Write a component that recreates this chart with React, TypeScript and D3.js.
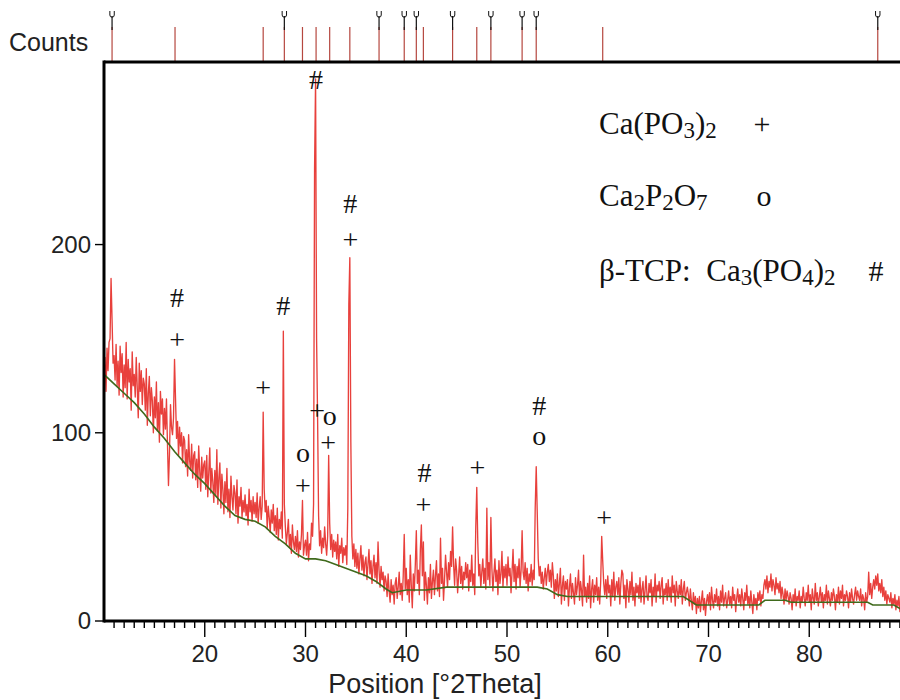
import React, { useRef, useEffect } from "react";
import * as d3 from "d3";

// observed pattern, one row per degree, sampled every 0.1 °2Theta from 10.0
const obsStart = 10;
const obsStep = 0.1;
const obsRows = [
  [128, 140, 122, 145, 133, 148, 150, 182, 160, 137],
  [141, 128, 147, 125, 138, 120, 146, 132, 142, 119],
  [136, 124, 148, 118, 139, 127, 134, 112, 143, 125],
  [131, 119, 140, 124, 108, 137, 122, 133, 115, 129],
  [126, 112, 134, 104, 121, 130, 109, 124, 117, 100],
  [119, 108, 127, 101, 116, 95, 122, 110, 118, 99],
  [113, 102, 118, 94, 72, 89, 115, 103, 99, 108],
  [139, 118, 97, 106, 88, 103, 93, 100, 84, 98],
  [96, 82, 91, 77, 99, 85, 80, 94, 76, 88],
  [90, 75, 86, 71, 93, 80, 69, 87, 76, 83],
  [85, 70, 88, 66, 79, 92, 68, 81, 74, 63],
  [80, 67, 91, 62, 76, 84, 60, 78, 70, 57],
  [74, 63, 81, 58, 70, 55, 77, 66, 59, 72],
  [68, 57, 75, 52, 66, 61, 71, 55, 64, 58],
  [67, 56, 62, 51, 70, 58, 64, 53, 66, 57],
  [63, 55, 68, 52, 60, 66, 54, 61, 111, 70],
  [58, 64, 49, 61, 55, 47, 59, 52, 62, 48],
  [56, 46, 60, 43, 54, 49, 58, 44, 154, 62],
  [50, 41, 47, 54, 39, 46, 36, 51, 42, 38],
  [45, 37, 48, 34, 42, 38, 46, 64, 35, 40],
  [43, 35, 47, 32, 41, 38, 52, 45, 62, 240],
  [288, 150, 108, 56, 40, 48, 36, 44, 39, 50],
  [41, 35, 45, 88, 52, 38, 46, 34, 43, 37],
  [42, 33, 46, 29, 40, 36, 44, 31, 39, 35],
  [40, 30, 60, 168, 193, 95, 45, 33, 41, 29],
  [38, 28, 36, 25, 33, 40, 27, 35, 24, 31],
  [34, 22, 30, 38, 25, 32, 20, 29, 35, 23],
  [31, 20, 42, 27, 18, 29, 22, 26, 16, 24],
  [21, 13, 25, 16, 10, 22, 14, 19, 9, 20],
  [23, 12, 18, 26, 14, 20, 11, 24, 46, 17],
  [28, 14, 22, 10, 35, 19, 7, 25, 16, 30],
  [48, 20, 27, 14, 38, 51, 24, 42, 11, 26],
  [19, 9, 23, 15, 30, 12, 21, 27, 14, 24],
  [32, 16, 25, 13, 44, 20, 28, 11, 22, 35],
  [26, 18, 31, 22, 37, 29, 50, 30, 19, 33],
  [27, 15, 24, 34, 20, 29, 17, 26, 22, 31],
  [23, 30, 16, 27, 21, 35, 19, 25, 14, 50],
  [71, 42, 24, 30, 18, 26, 33, 20, 28, 17],
  [60, 22, 31, 19, 55, 28, 16, 25, 33, 21],
  [27, 14, 32, 20, 25, 37, 18, 29, 23, 30],
  [19, 34, 24, 28, 15, 26, 38, 21, 30, 17],
  [29, 23, 33, 18, 27, 48, 26, 22, 31, 20],
  [28, 16, 25, 21, 30, 19, 27, 22, 60, 82],
  [58, 33, 24, 29, 20, 26, 17, 23, 28, 19],
  [26, 30, 21, 27, 18, 31, 24, 12, 22, 16],
  [25, 13, 20, 28, 9, 19, 24, 11, 21, 17],
  [22, 8, 18, 25, 12, 20, 15, 9, 23, 14],
  [19, 27, 11, 21, 16, 8, 35, 13, 18, 10],
  [20, 12, 24, 7, 17, 22, 10, 19, 14, 23],
  [11, 18, 9, 21, 45, 32, 20, 14, 22, 12],
  [24, 15, 19, 8, 22, 13, 26, 11, 18, 21],
  [14, 23, 9, 20, 27, 25, 12, 19, 7, 22],
  [17, 10, 21, 14, 26, 11, 18, 8, 20, 15],
  [19, 12, 23, 10, 17, 21, 9, 16, 24, 13],
  [11, 20, 15, 22, 8, 18, 13, 25, 10, 19],
  [16, 21, 12, 19, 23, 9, 17, 14, 20, 11],
  [22, 13, 18, 10, 24, 15, 19, 8, 21, 16],
  [12, 19, 14, 22, 9, 17, 21, 11, 15, 18],
  [14, 8, 17, 11, 6, 15, 9, 13, 4, 12],
  [7, 13, 5, 11, 16, 6, 12, 3, 10, 14],
  [9, 15, 6, 18, 11, 7, 14, 10, 17, 8],
  [13, 6, 16, 10, 19, 8, 12, 15, 7, 11],
  [16, 9, 13, 7, 18, 11, 14, 5, 12, 17],
  [10, 14, 8, 17, 12, 6, 15, 11, 19, 9],
  [13, 7, 16, 10, 4, 14, 9, 12, 6, 15],
  [11, 16, 8, 14, 12, 19, 22, 17, 24, 15],
  [21, 18, 25, 16, 22, 19, 14, 23, 17, 20],
  [15, 21, 12, 18, 14, 9, 17, 11, 16, 13],
  [9, 15, 12, 6, 14, 10, 17, 8, 13, 11],
  [16, 7, 13, 10, 18, 12, 8, 15, 11, 19],
  [10, 14, 6, 17, 12, 9, 20, 11, 15, 8],
  [13, 18, 10, 15, 7, 14, 11, 19, 9, 16],
  [12, 8, 15, 11, 17, 13, 6, 14, 10, 18],
  [9, 16, 12, 19, 8, 14, 11, 16, 13, 7],
  [15, 10, 17, 12, 9, 14, 18, 11, 16, 13],
  [11, 17, 8, 14, 12, 6, 15, 10, 13, 26],
  [14, 20, 12, 18, 22, 17, 24, 19, 25, 16],
  [20, 15, 22, 13, 18, 11, 16, 9, 14, 12],
  [10, 15, 7, 12, 9, 14, 6, 11, 8, 13],
  [5, 10, 3, 8, 4, 9, 2, 7, 5, 6],
];

// fitted background
const bgX = [10, 11, 12, 13, 14, 15, 16, 17, 18, 19, 20, 21, 22, 23, 24, 25, 26, 27, 28, 29, 30, 31, 32, 33, 34, 35, 36, 37, 38, 38.6, 40, 42, 44, 53, 54, 55, 56, 67.5, 68.8, 75, 75.6, 77.6, 78.2, 85.8, 86.3, 88.4, 89.2, 90];
const bgY = [131, 126, 121, 116, 110, 103, 97, 90, 84, 78, 73, 67, 61, 56, 54, 53, 50, 45, 41, 36, 33, 33, 32, 30, 28, 26, 24, 21, 17, 15, 16.5, 16.5, 18, 18, 17, 14, 13, 13, 8.5, 8.5, 11, 11, 10, 10, 8.5, 8.5, 6, 6];

// reference pattern sticks in the top strip
const refPos = [10.8, 17.05, 25.8, 27.9, 29.7, 31.05, 32.4, 34.4, 37.3, 39.8, 41.0, 41.7, 44.6, 47.0, 48.4, 51.5, 52.9, 59.5, 86.8];
const refMarked = [10.8, 27.9, 37.3, 39.8, 41.0, 44.6, 48.4, 51.5, 52.9, 86.8];

// phase marks over the peaks
const annSym = ["#", "+", "+", "#", "o", "+", "#", "+", "o", "+", "#", "+", "#", "+", "+", "#", "o", "+"];
const annX = [17.25, 17.25, 25.8, 27.8, 29.75, 29.75, 31.05, 31.15, 32.4, 32.25, 34.45, 34.45, 41.8, 41.7, 47.05, 53.2, 53.2, 59.65];
const annY = [172, 149, 123, 168, 88, 71, 288, 111, 108, 94, 222, 202, 79, 61, 81, 115, 97, 54];

const legendNames = ["Ca(PO3)2", "Ca2P2O7", "β-TCP: Ca3(PO4)2"];
const legendSyms = ["+", "o", "#"];

const xTicks = [20, 30, 40, 50, 60, 70, 80];
const yTicks = [0, 100, 200];

const SANS = "'Liberation Sans', Arial, sans-serif";
const SERIF = "'Liberation Serif', 'Times New Roman', serif";

export default function App() {
  const ref = useRef<SVGSVGElement>(null);

  useEffect(() => {
    const left = 104, right = 910, top = 62, bottom = 621;
    const x = d3.scaleLinear().domain([10, 90]).range([left, right]);
    const y = d3.scaleLinear().domain([0, 297]).range([bottom, top]);

    const svg = d3.select(ref.current);
    svg.selectAll("*").remove();

    const obs = obsRows.flat().map((v, i) => [obsStart + i * obsStep, v] as [number, number]);
    const bg = bgX.map((v, i) => [v, bgY[i]] as [number, number]);
    const line = d3.line<[number, number]>().x(d => x(d[0])).y(d => y(d[1]));

    // top strip
    svg.append("text")
      .attr("x", 9).attr("y", 51)
      .attr("font-family", SANS).attr("font-size", 25).attr("fill", "#222")
      .text("Counts");

    svg.append("g").selectAll("line")
      .data(refPos)
      .join("line")
      .attr("x1", d => x(d)).attr("x2", d => x(d))
      .attr("y1", 27).attr("y2", top)
      .attr("stroke", "#b5473f").attr("stroke-width", 1.2);

    const marks = svg.append("g").selectAll("g")
      .data(refMarked)
      .join("g")
      .attr("transform", d => `translate(${x(d)},0)`);
    marks.append("line")
      .attr("y1", 16).attr("y2", 30)
      .attr("stroke", "#111").attr("stroke-width", 1.2);
    marks.append("path")
      .attr("d", "M-2.2,11 v4 q0,2.2 2.2,2.2 q2.2,0 2.2,-2.2 v-4")
      .attr("fill", "none").attr("stroke", "#111").attr("stroke-width", 1);

    // data
    svg.append("path")
      .datum(obs)
      .attr("d", line)
      .attr("fill", "none")
      .attr("stroke", "#e8403c")
      .attr("stroke-width", 1.35)
      .attr("stroke-linejoin", "round");

    svg.append("path")
      .datum(bg)
      .attr("d", line)
      .attr("fill", "none")
      .attr("stroke", "#3f6a1c")
      .attr("stroke-width", 1.6);

    // frame and axes
    const ax = svg.append("g").attr("stroke", "#000");
    ax.append("line").attr("x1", left).attr("x2", right).attr("y1", top).attr("y2", top).attr("stroke-width", 3);
    ax.append("line").attr("x1", left).attr("x2", left).attr("y1", top - 1.5).attr("y2", bottom + 1.5).attr("stroke-width", 3);
    ax.append("line").attr("x1", left).attr("x2", right).attr("y1", bottom).attr("y2", bottom).attr("stroke-width", 3);

    ax.append("g").selectAll("line")
      .data(d3.range(11, 90))
      .join("line")
      .attr("x1", d => x(d)).attr("x2", d => x(d))
      .attr("y1", bottom).attr("y2", d => bottom + (d % 10 === 0 ? 16 : 7))
      .attr("stroke-width", 1.4);

    ax.append("g").selectAll("line")
      .data(yTicks)
      .join("line")
      .attr("x1", left - 9).attr("x2", left)
      .attr("y1", d => y(d)).attr("y2", d => y(d))
      .attr("stroke-width", 1.4);

    svg.append("g").selectAll("text")
      .data(xTicks)
      .join("text")
      .attr("x", d => x(d)).attr("y", 662)
      .attr("text-anchor", "middle")
      .attr("font-family", SANS).attr("font-size", 24).attr("fill", "#222")
      .text(d => d);

    svg.append("g").selectAll("text")
      .data(yTicks)
      .join("text")
      .attr("x", 91).attr("y", d => y(d))
      .attr("dy", "0.35em")
      .attr("text-anchor", "end")
      .attr("font-family", SANS).attr("font-size", 24).attr("fill", "#222")
      .text(d => d);

    svg.append("text")
      .attr("x", 435).attr("y", 693)
      .attr("text-anchor", "middle")
      .attr("font-family", SANS).attr("font-size", 27).attr("fill", "#222")
      .text("Position [°2Theta]");

    // peak marks
    const symShift: Record<string, number> = { "#": 10, "+": 8, "o": 7 };
    svg.append("g").selectAll("text")
      .data(annSym.map((s, i) => ({ s, v: annX[i], c: annY[i] })))
      .join("text")
      .attr("x", d => x(d.v)).attr("y", d => y(d.c) + symShift[d.s])
      .attr("text-anchor", "middle")
      .attr("font-family", SERIF).attr("font-size", 28).attr("fill", "#111")
      .text(d => d.s);

    // legend
    const legRows = [134, 206, 281];
    const symX = [762, 764, 876];
    legendNames.forEach((name, i) => {
      const t = svg.append("text")
        .attr("x", 599).attr("y", legRows[i])
        .attr("font-family", SERIF).attr("font-size", 31).attr("fill", "#111")
        .attr("word-spacing", 8);
      let sub = false;
      name.split(/(\d)/).filter(p => p.length).forEach(part => {
        const isSub = /^\d$/.test(part);
        const ts = t.append("tspan").text(part);
        if (isSub) ts.attr("font-size", 23);
        if (isSub !== sub) ts.attr("dy", isSub ? 4 : -4);
        sub = isSub;
      });
      svg.append("text")
        .attr("x", symX[i]).attr("y", legRows[i])
        .attr("text-anchor", "middle")
        .attr("font-family", SERIF).attr("font-size", 30).attr("fill", "#111")
        .text(legendSyms[i]);
    });
  }, []);

  return (
    <svg
      ref={ref}
      width={900}
      height={700}
      style={{ position: "absolute", left: 0, top: 0, background: "#fff" }}
    />
  );
}
